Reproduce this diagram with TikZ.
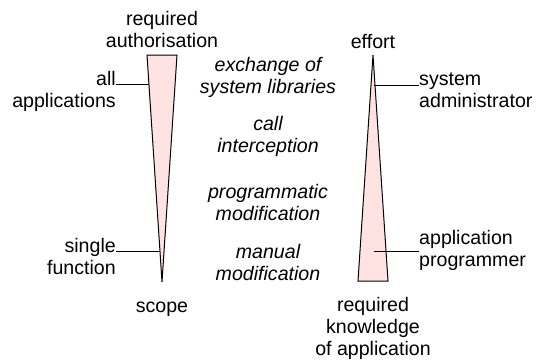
\documentclass[tikz,border=0pt]{standalone}
\usepackage{fontspec}
\setmainfont{Liberation Sans}
\definecolor{wedge}{RGB}{255,226,226}
\tikzset{
  lbl/.style={inner sep=0pt, font=\fontsize{19.6}{22}\selectfont, align=center},
  lblr/.style={lbl, align=right},
  lbll/.style={lbl, align=left},
  mth/.style={lbl, font=\fontsize{19.6}{22}\selectfont\itshape},
  wedgestyle/.style={draw=black, fill=wedge, line width=1pt, line join=miter},
  conn/.style={draw=black, line width=1pt}
}
\begin{document}
\begin{tikzpicture}[x=1pt,y=-1pt]
\useasboundingbox (0,0) rectangle (538,364);
% left wedge: scope
\coordinate (LA) at (147,55);
\coordinate (LB) at (177,55);
\coordinate (LC) at (162,282);
\draw[wedgestyle] (LA) -- (LB) -- (LC) -- cycle;
% right wedge: effort
\coordinate (RA) at (373,55);
\coordinate (RB) at (388,281);
\coordinate (RC) at (358,281);
\draw[wedgestyle] (RA) -- (RB) -- (RC) -- cycle;

\node[lbl, anchor=base] (auth) at (162,47) {required\\authorisation};
\node[lblr, anchor=base east] (allapp) at (116,107) {all\\applications};
\node[lblr, anchor=base east] (single) at (116,274) {single\\function};
\node[lbl, anchor=base] (scope) at (162,312) {scope};

\node[lbl, anchor=base] (effort) at (373,48) {effort};
\node[lbll, anchor=base west] (sysadm) at (419,107) {system\\administrator};
\node[lbll, anchor=base west] (appprog) at (419,266) {application\\programmer};
\node[lbl, anchor=base] (know) at (373,355) {required\\knowledge\\of application};

\node[mth, anchor=base] (m1) at (268,93) {exchange of\\system libraries};
\node[mth, anchor=base] (m2) at (268,152) {call\\interception};
\node[mth, anchor=base] (m3) at (268,220) {programmatic\\modification};
\node[mth, anchor=base] (m4) at (268,280) {manual\\modification};

\coordinate (la) at (148.9,84);
\coordinate (ls) at (160.1,251);
\coordinate (rs) at (374,85);
\coordinate (ra) at (374,251);
\draw[conn] (allapp.east |- la) -- (la);
\draw[conn] (single.east |- ls) -- (ls);
\draw[conn] (rs) -- (sysadm.west |- rs);
\draw[conn] (ra) -- (appprog.west |- ra);
\end{tikzpicture}
\end{document}
